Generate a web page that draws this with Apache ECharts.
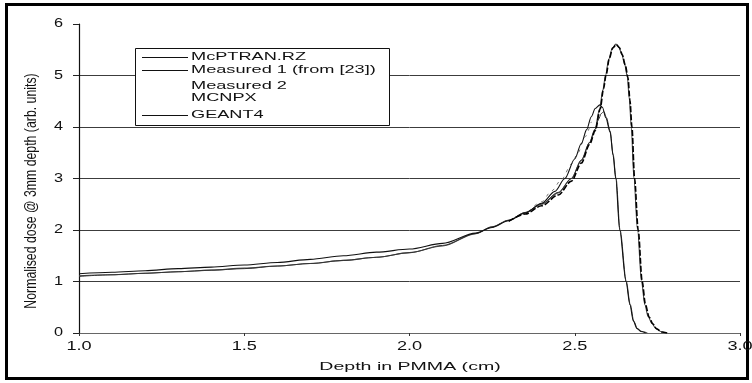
<!DOCTYPE html>
<html>
<head>
<meta charset="utf-8">
<script src="https://cdn.jsdelivr.net/npm/echarts@6/dist/echarts.min.js"></script>
<style>
  html, body { margin: 0; padding: 0; background: #fff; }
  #chart { width: 752px; height: 383px; }
</style>
</head>
<body>
<div id="chart"></div>
<script>
// Axis ticks
const xTickValues = [1.0, 1.5, 2.0, 2.5, 3.0];
const xTickLabels = ['1.0', '1.5', '2.0', '2.5', '3.0'];
const yTickValues = [0, 1, 2, 3, 4, 5, 6];
const yTickLabels = ['0', '1', '2', '3', '4', '5', '6'];

const xTitle = 'Depth in PMMA (cm)';
const yTitle = 'Normalised dose @ 3mm depth (arb. units)';

const seriesNames = ['McPTRAN.RZ', 'Measured 1 (from [23])', 'Measured 2', 'MCNPX', 'GEANT4'];
const legendHasLine = [true, true, false, false, true];

// McPTRAN.RZ depth-dose
const mcptranDepth = [1.0, 1.1, 1.2, 1.3, 1.4, 1.5, 1.6, 1.7, 1.8, 1.9, 2.0, 2.1, 2.2, 2.25, 2.3, 2.35, 2.4, 2.45, 2.49, 2.52, 2.545, 2.561, 2.575, 2.585, 2.593, 2.603, 2.613, 2.624, 2.633, 2.642, 2.651, 2.659, 2.665, 2.671, 2.679, 2.690, 2.702, 2.712, 2.722, 2.733, 2.745, 2.760, 2.775];
const mcptranDose  = [1.11, 1.13, 1.16, 1.19, 1.22, 1.26, 1.30, 1.35, 1.41, 1.47, 1.56, 1.69, 1.93, 2.06, 2.19, 2.34, 2.50, 2.72, 3.00, 3.35, 3.70, 3.95, 4.35, 4.72, 5.00, 5.32, 5.52, 5.61, 5.56, 5.42, 5.22, 4.98, 4.55, 4.00, 3.00, 2.00, 1.00, 0.55, 0.32, 0.19, 0.09, 0.03, 0];

// Measured 1 (from [23])
const measured1Depth = [1.0, 1.1, 1.2, 1.3, 1.4, 1.5, 1.6, 1.7, 1.8, 1.9, 2.0, 2.1, 2.2, 2.25, 2.3, 2.35, 2.4, 2.44, 2.47, 2.50, 2.52, 2.536, 2.55, 2.562, 2.576, 2.584, 2.594, 2.607, 2.616, 2.624, 2.636, 2.655, 2.667, 2.677, 2.688, 2.700, 2.715];
const measured1Dose  = [1.15, 1.18, 1.21, 1.25, 1.28, 1.32, 1.37, 1.43, 1.50, 1.57, 1.63, 1.74, 1.94, 2.05, 2.18, 2.33, 2.52, 2.75, 3.00, 3.38, 3.68, 3.95, 4.20, 4.36, 4.43, 4.38, 4.18, 3.90, 3.45, 3.00, 2.00, 1.00, 0.55, 0.24, 0.09, 0.03, 0];

// Measured 2
const measured2Depth = [2.36, 2.40, 2.43, 2.46, 2.49, 2.51, 2.53, 2.55];
const measured2Dose  = [2.36, 2.55, 2.76, 2.98, 3.28, 3.50, 3.80, 4.10];

// MCNPX
const mcnpxDepth = [2.30, 2.35, 2.40, 2.45, 2.49, 2.52, 2.545, 2.562, 2.577, 2.587, 2.595, 2.605, 2.615, 2.626, 2.635, 2.644, 2.653, 2.661, 2.667, 2.673, 2.681, 2.692, 2.704, 2.714, 2.725, 2.736, 2.748, 2.763, 2.780];
const mcnpxDose  = [2.17, 2.31, 2.47, 2.68, 2.95, 3.30, 3.66, 3.93, 4.35, 4.74, 5.02, 5.34, 5.54, 5.60, 5.54, 5.40, 5.20, 4.96, 4.52, 4.00, 3.00, 2.00, 1.00, 0.55, 0.31, 0.18, 0.08, 0.02, 0];

// GEANT4
const geantDepth = [1.0, 1.1, 1.2, 1.3, 1.4, 1.5, 1.6, 1.7, 1.8, 1.9, 2.0, 2.1, 2.2, 2.25, 2.3, 2.35, 2.4, 2.45, 2.49, 2.52, 2.545, 2.561, 2.572, 2.580, 2.588, 2.596, 2.607, 2.616, 2.625, 2.637, 2.656, 2.668, 2.679, 2.690, 2.703, 2.720];
const geantDose  = [1.10, 1.13, 1.16, 1.19, 1.22, 1.25, 1.30, 1.35, 1.41, 1.47, 1.56, 1.70, 1.93, 2.06, 2.19, 2.34, 2.51, 2.73, 3.00, 3.36, 3.70, 3.95, 4.15, 4.26, 4.30, 4.18, 3.92, 3.47, 3.00, 2.00, 1.00, 0.55, 0.22, 0.08, 0.03, 0];

const FONT = '"Liberation Sans", Arial, Helvetica, sans-serif';

function pairs(xs, ys) {
  return xs.map((x, i) => [x, ys[i]]);
}

const chart = echarts.init(document.getElementById('chart'), null, { renderer: 'canvas' });

function lineSeries(name, xs, ys, color, width, type, z) {
  return {
    name: name,
    type: 'line',
    data: pairs(xs, ys),
    showSymbol: false,
    symbol: 'none',
    smooth: 0.3,
    smoothMonotone: 'x',
    lineStyle: { color: color, width: width, type: type },
    z: z,
    silent: true
  };
}

chart.setOption({
  animation: false,
  backgroundColor: '#ffffff',
  grid: { left: 79, right: 12, top: 24, bottom: 50, containLabel: false },
  xAxis: {
    type: 'value',
    min: 1, max: 3, interval: 0.5,
    axisLine: { show: true, lineStyle: { color: '#666', width: 1 } },
    axisTick: { show: true, length: 3, lineStyle: { color: '#333', width: 1 } },
    axisLabel: { show: false },
    splitLine: { show: false }
  },
  yAxis: {
    type: 'value',
    min: 0, max: 6, interval: 1,
    axisLine: { show: true, onZero: false, lineStyle: { color: '#111', width: 1.2 } },
    axisTick: { show: true, length: 6, lineStyle: { color: '#222', width: 1 } },
    axisLabel: { show: false },
    splitLine: { show: true, showMinLine: false, showMaxLine: false, lineStyle: { color: '#3c3c3c', width: 1 } }
  },
  series: [
    lineSeries(seriesNames[0], mcptranDepth, mcptranDose, '#4a4a4a', 1.1, 'solid', 3),
    lineSeries(seriesNames[1], measured1Depth, measured1Dose, '#111', 1.1, 'solid', 4),
    lineSeries(seriesNames[2], measured2Depth, measured2Dose, '#777', 1, [3, 5], 2),
    lineSeries(seriesNames[3], mcnpxDepth, mcnpxDose, '#000', 1.6, [6, 2], 5),
    lineSeries(seriesNames[4], geantDepth, geantDose, '#333', 1, 'solid', 3)
  ]
});

// Text elements (tick labels, titles, legend) drawn horizontally widened
function label(text, x, y, opts) {
  const o = opts || {};
  return {
    type: 'text',
    x: x, y: y,
    scaleX: o.scaleX || 1,
    scaleY: o.scaleY || 1,
    rotation: o.rotation || 0,
    z: 100,
    silent: true,
    style: {
      text: text,
      fontFamily: FONT,
      fontSize: o.fontSize || 12,
      fill: o.fill || '#111',
      align: o.align || 'center',
      textAlign: o.align || 'center',
      verticalAlign: 'middle',
      textVerticalAlign: 'middle'
    }
  };
}

const gfx = [];

// outer frame
gfx.push({
  type: 'rect', z: 100, silent: true,
  shape: { x: 6.5, y: 4.5, width: 741, height: 374 },
  style: { fill: null, stroke: '#000', lineWidth: 3 }
});

// x tick labels
xTickValues.forEach((v, i) => {
  const px = chart.convertToPixel({ xAxisIndex: 0 }, v);
  gfx.push(label(xTickLabels[i], px, 347, { fontSize: 12.5, scaleX: 1.45 }));
});

// y tick labels
yTickValues.forEach((v, i) => {
  const py = chart.convertToPixel({ yAxisIndex: 0 }, v);
  gfx.push(label(yTickLabels[i], 63, py, { fontSize: 12.5, scaleX: 1.3, align: 'right' }));
});

// axis titles
gfx.push(label(xTitle, 410, 367, { fontSize: 11.5, scaleX: 1.7 }));
gfx.push(label(yTitle, 32, 191, { fontSize: 12.3, rotation: Math.PI / 2, scaleY: 1.3 }));

// legend box
gfx.push({
  type: 'rect', z: 90, silent: true,
  shape: { x: 135.5, y: 48.5, width: 254, height: 77 },
  style: { fill: '#fff', stroke: '#111', lineWidth: 1 }
});
const legendRows = [56.7, 69.5, 85.5, 97.5, 115];
seriesNames.forEach((name, i) => {
  const y = legendRows[i];
  if (legendHasLine[i]) {
    gfx.push({
      type: 'line', z: 95, silent: true,
      shape: { x1: 142, y1: Math.round(y) + 0.5, x2: 188, y2: Math.round(y) + 0.5 },
      style: { stroke: '#111', lineWidth: 1 }
    });
  }
  gfx.push(label(name, 191, y, { fontSize: 11.5, scaleX: 1.58, align: 'left' }));
});

chart.setOption({ graphic: gfx });
</script>
</body>
</html>
